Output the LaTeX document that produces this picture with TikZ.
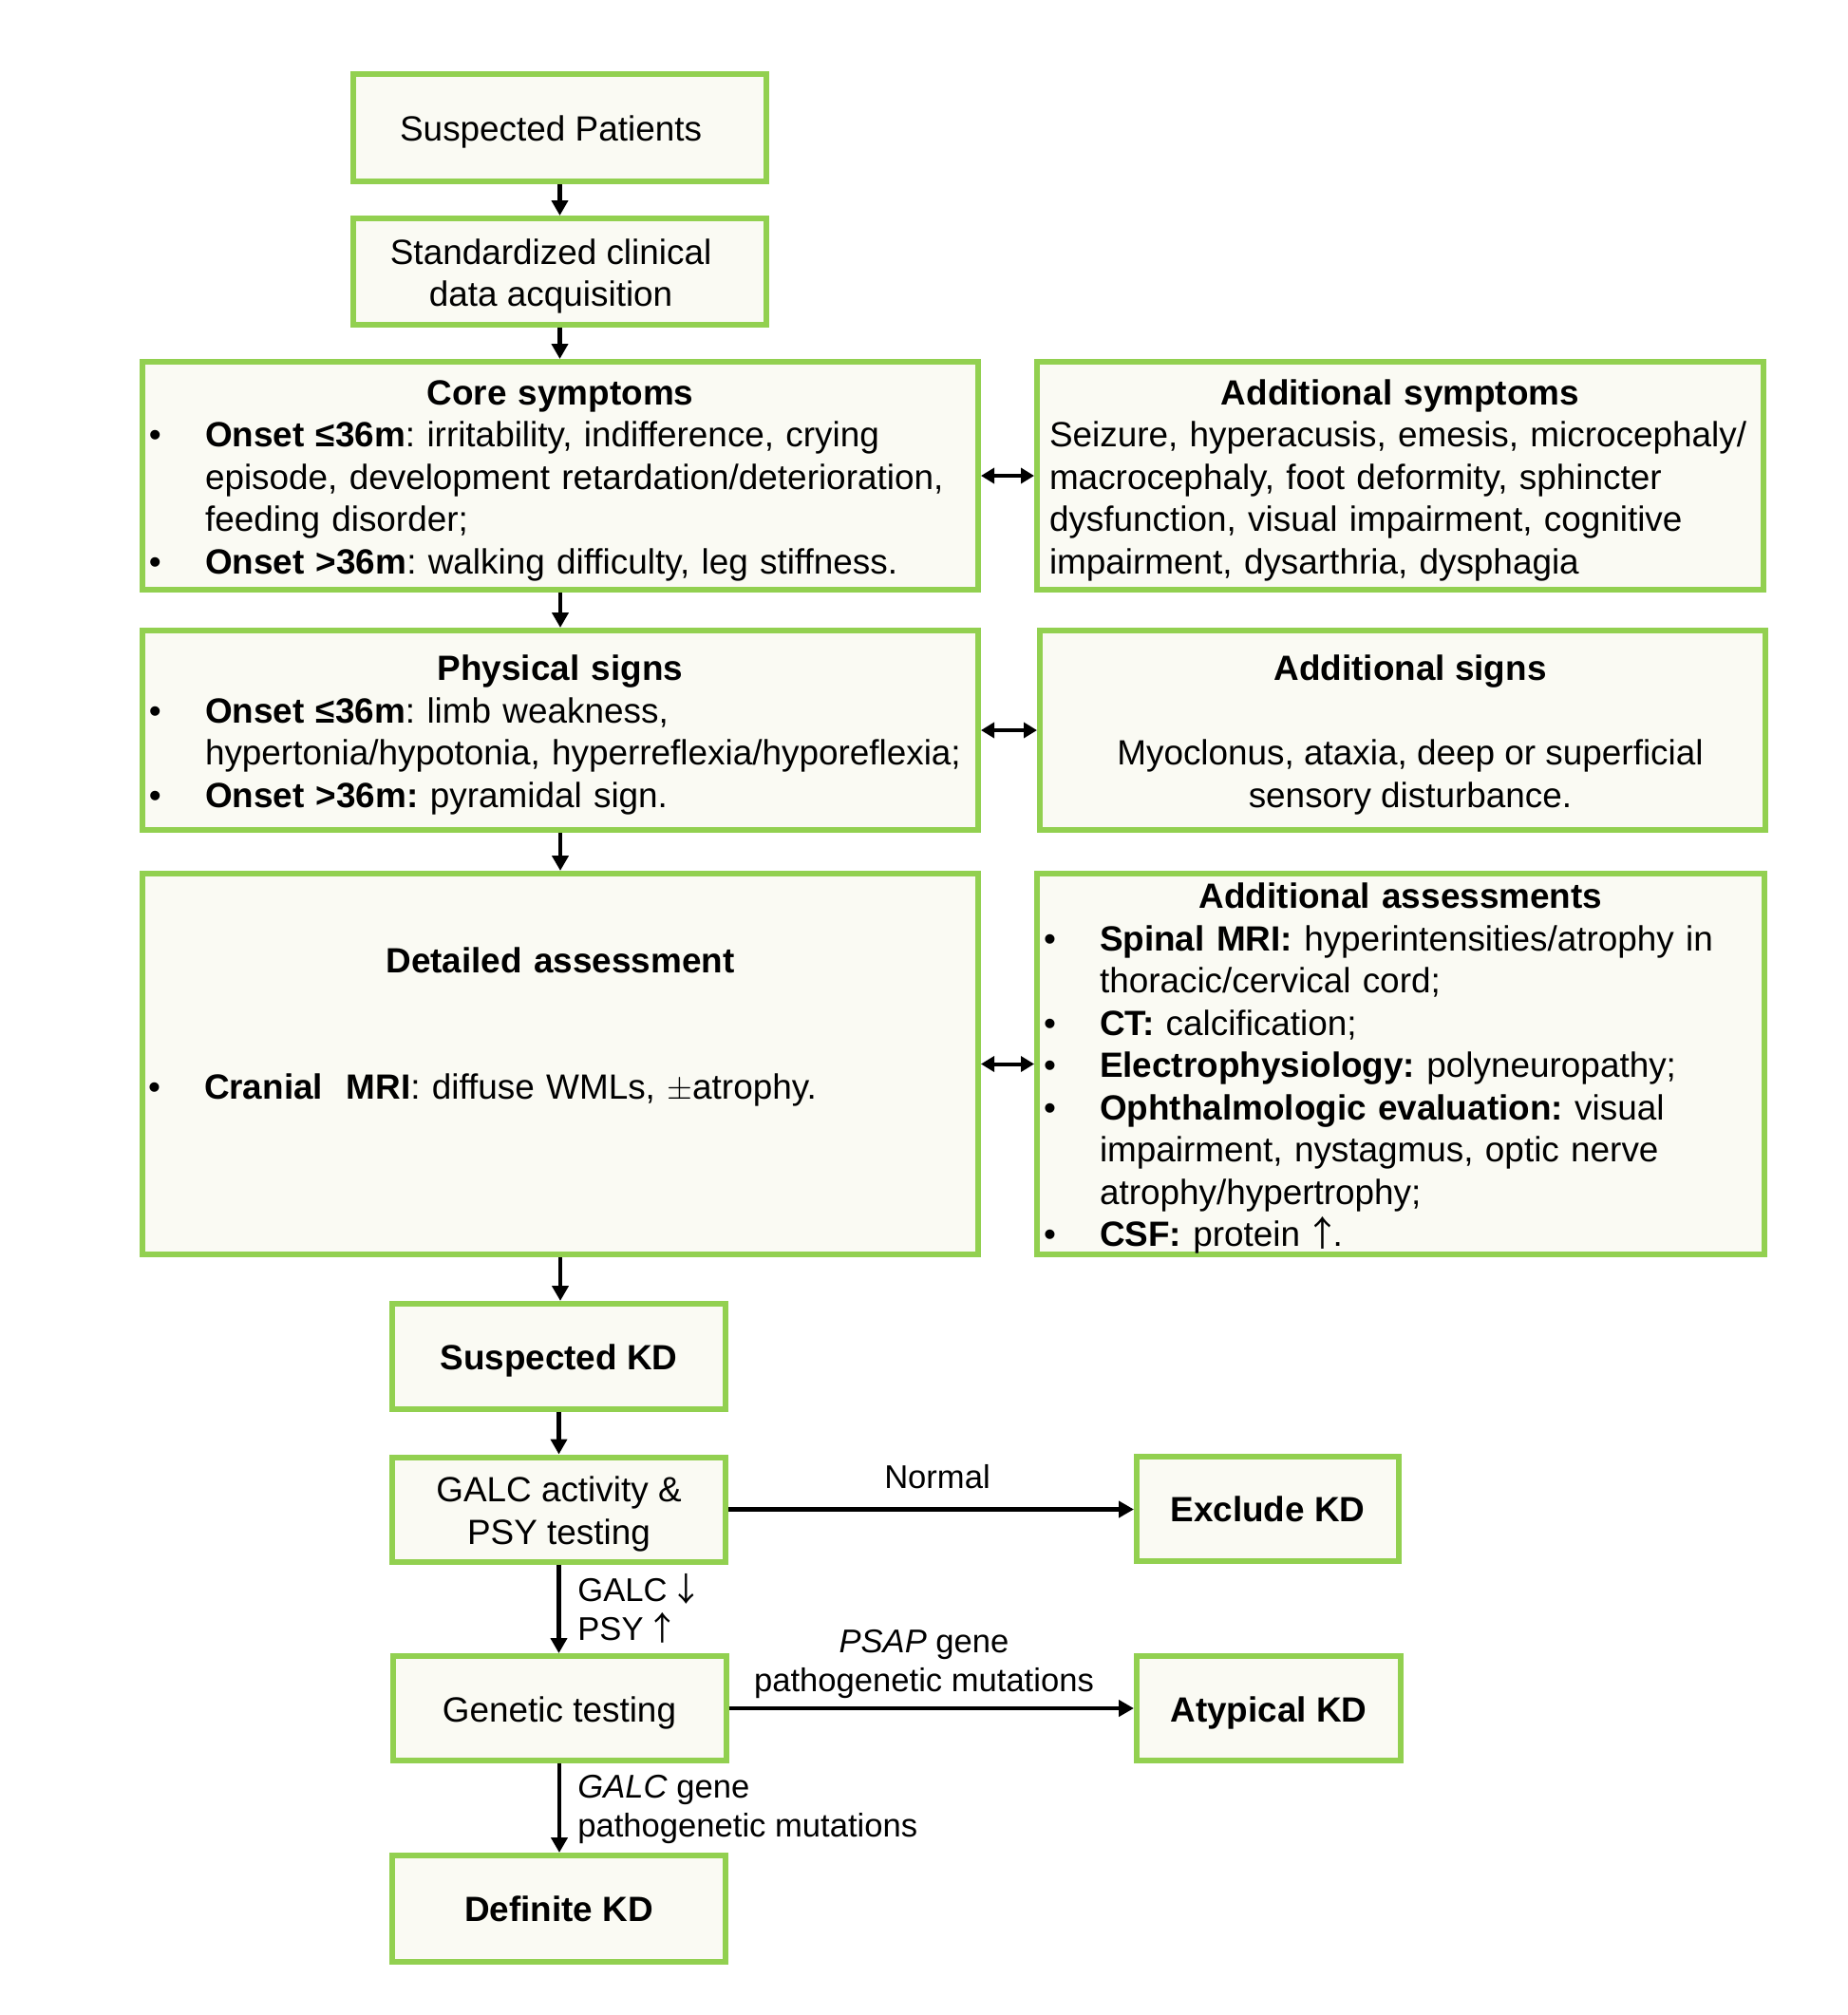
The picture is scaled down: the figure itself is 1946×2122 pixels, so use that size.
\documentclass[tikz,border=0pt]{standalone}
\usepackage{fontspec}
\setmainfont{Liberation Sans}
\newfontfamily\cjk{Noto Sans CJK SC}
\usetikzlibrary{arrows.meta}
\definecolor{kgreen}{HTML}{92D050}
\definecolor{kfill}{HTML}{FAFAF3}
\newcommand\boxfont{\fontsize{18.45pt}{22.25pt}\selectfont}
\newcommand\labfont{\fontsize{17.3pt}{20.5pt}\selectfont}
\newcommand\st{\rule{0pt}{18.1pt}}
\newcommand\bul[1]{\par\noindent\hangindent=27pt\hangafter=1\makebox[27pt][l]{\hspace*{-2.5pt}•}#1\par}
\newcommand\ttl[1]{{\centering\bfseries\st #1\par}}
\newcommand\uparr{{\cjk\kern-0.2em↑\kern-0.2em}}
\newcommand\downarr{{\cjk\kern-0.2em↓\kern-0.2em}}
\tikzset{
  box/.style={draw=kgreen, line width=3pt, fill=kfill, inner sep=0pt, font=\boxfont, align=center},
  bbox/.style={box, font=\boxfont\bfseries},
  arr/.style={line width=2.4pt, -{Triangle[width=8.5pt,length=8pt]}},
  darr/.style={line width=2pt, {Triangle[width=8pt,length=7pt]}-{Triangle[width=8pt,length=7pt]}},
  lab/.style={inner sep=0pt, font=\labfont}
}
\begin{document}
\frenchspacing
\begin{tikzpicture}[x=0.5pt,y=-0.5pt]
\fill[white] (0,0) rectangle (1946,2122);
\useasboundingbox (0,0) rectangle (1946,2122);

\node[box, minimum width=217.5pt, minimum height=56.5pt] (sp) at (589.5,134.5) {\st\kern-9.4pt Suspected Patients};
\node[box, minimum width=217.5pt, minimum height=56pt] (std) at (589.5,286) {\st\kern-9.4pt Standardized clinical\\\kern-9.4pt data acquisition};

\node[box, minimum width=440pt, minimum height=120pt, text width=428pt, align=left] (core) at (590,501)
 {\ttl{Core symptoms}\bul{\textbf{Onset ≤36m}: irritability, indifference, crying\newline episode, development retardation/deterioration,\newline feeding disorder;}\bul{\textbf{Onset >36m}: walking difficulty, leg stiffness.}};

\node[box, minimum width=382.5pt, minimum height=120pt, text width=369.5pt, align=left] (addsym) at (1474.5,501)
 {\ttl{Additional symptoms}\noindent Seizure, hyperacusis, emesis, microcephaly/\newline macrocephaly, foot deformity, sphincter\newline dysfunction, visual impairment, cognitive\newline impairment, dysarthria, dysphagia\par};

\node[box, minimum width=440pt, minimum height=105pt, text width=428pt, align=left] (phys) at (590,769)
 {\ttl{Physical signs}\bul{\textbf{Onset ≤36m}: limb weakness,\newline hypertonia/hypotonia, hyperreflexia/hyporeflexia;}\bul{\textbf{Onset >36m:} pyramidal sign.}};

\node[box, minimum width=382pt, minimum height=105pt, align=center] (addsigns) at (1477,769)
 {\st\kern8pt\textbf{Additional signs}\\[22.25pt]\kern8pt Myoclonus, ataxia, deep or superficial\\\kern8pt sensory disturbance.};

\node[box, minimum width=440pt, minimum height=200.5pt, text width=429pt, align=left] (det) at (590,1120.5)
 {\ttl{Detailed assessment}\vskip44.5pt\bul{\textbf{Cranial~~MRI}: diffuse WMLs, $\pm$atrophy.}\vskip25.5pt\hbox{}};

\node[box, minimum width=383pt, minimum height=200.5pt, text width=371pt, align=left] (addas) at (1475,1120.5)
 {\ttl{Additional assessments}\bul{\textbf{Spinal MRI:} hyperintensities/atrophy in\newline thoracic/cervical cord;}\bul{\textbf{CT:} calcification;}\bul{\textbf{Electrophysiology:} polyneuropathy;}\bul{\textbf{Ophthalmologic evaluation:} visual\newline impairment, nystagmus, optic nerve\newline atrophy/hypertrophy;}\bul{\textbf{CSF:} protein \uparr.}};

\node[bbox, minimum width=175.5pt, minimum height=55.5pt] (skd) at (588.5,1428.5) {\st Suspected KD};
\node[box, minimum width=175.5pt, minimum height=55pt] (galc) at (588.5,1589.5) {\st GALC activity \&\\PSY testing};
\node[bbox, minimum width=138pt, minimum height=55pt] (exc) at (1335,1589) {Exclude KD};
\node[box, minimum width=175.5pt, minimum height=55pt] (gen) at (589,1799) {\st Genetic testing};
\node[bbox, minimum width=139pt, minimum height=55pt] (aty) at (1336,1799) {\st Atypical KD};
\node[bbox, minimum width=175.5pt, minimum height=56pt] (def) at (588.5,2010) {Definite KD};

\draw[arr] (sp.south) -- (sp.south |- std.north);
\draw[arr] (std.south) -- (std.south |- core.north);
\draw[arr] (core.south) -- (core.south |- phys.north);
\draw[arr] (phys.south) -- (phys.south |- det.north);
\draw[arr] (det.south) -- (det.south |- skd.north);
\draw[arr] (skd.south) -- (skd.south |- galc.north);
\draw[arr] (galc.south) -- (galc.south |- gen.north);
\draw[arr] (gen.south) -- (gen.south |- def.north);
\draw[arr] (galc.east) -- (galc.east -| exc.west);
\draw[arr] (gen.east) -- (gen.east -| aty.west);
\draw[darr] (core.east) -- (core.east -| addsym.west);
\draw[darr] (phys.east) -- (phys.east -| addsigns.west);
\draw[darr] (det.east) -- (det.east -| addas.west);

\node[lab] (lnormal) at (987,1555.5) {Normal};
\node[lab, align=center] (lpsap) at (973,1752) {\textit{PSAP} gene\\pathogenetic mutations};
\node[lab, align=left, anchor=west] (lgalc) at (608,1694) {GALC \downarr\\PSY \uparr};
\node[lab, align=left, anchor=west] (lgene) at (608,1905) {\textit{GALC} gene\\pathogenetic mutations};
\end{tikzpicture}
\end{document}
